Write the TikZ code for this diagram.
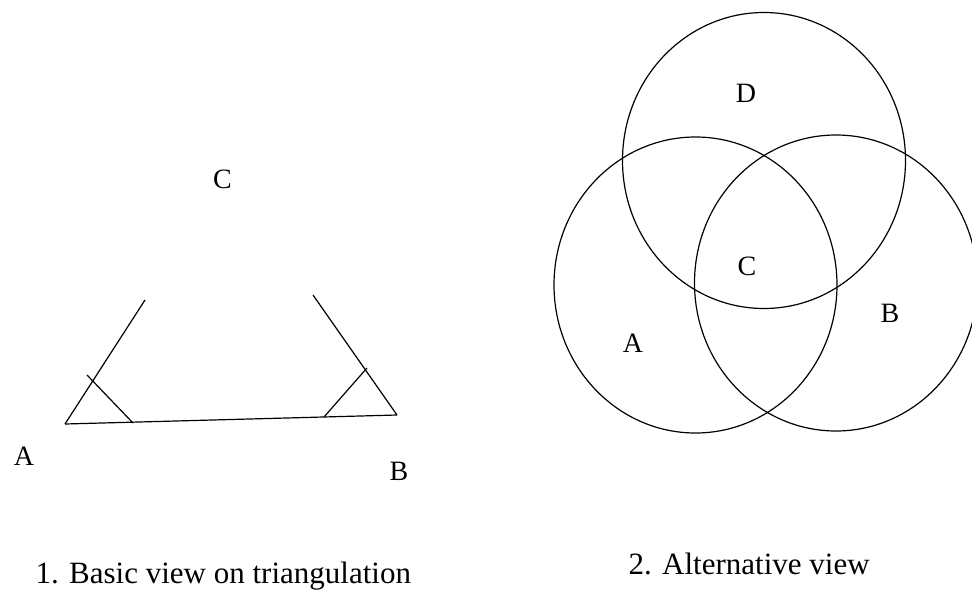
\documentclass[tikz,border=0pt]{standalone}
\usepackage{fontspec}
\setmainfont{Liberation Serif}

\begin{document}
\begin{tikzpicture}[x=1pt, y=-1pt, line width=1.2pt,
      lbl/.style={inner sep=0pt, anchor=base, font=\fontsize{28}{32}\selectfont},
      captxt/.style={inner sep=0pt, anchor=base west, font=\fontsize{31}{35}\selectfont},
      ring/.style={draw, x radius=141.5, y radius=148}]
  \useasboundingbox (0,0) rectangle (972,592);
  \clip (0,0) rectangle (972,592);
  % left: triangulation
  \coordinate (pA)  at (65,424);
  \coordinate (pB)  at (397,415);
  \coordinate (rA)  at (145,300);
  \coordinate (rB)  at (313,295);
  \coordinate (tA1) at (87,375);
  \coordinate (tA2) at (133,423);
  \coordinate (tB1) at (324,417);
  \coordinate (tB2) at (367,368);
  \draw (pA) -- (pB);
  \draw (pA) -- (rA); \draw (pB) -- (rB);
  \draw (tA1) -- (tA2); \draw (tB1) -- (tB2);
  \node[lbl] (labC) at (222.5,188) {C};
  \node[lbl] (labA) at (24,465)    {A};
  \node[lbl] (labB) at (399,480)   {B};
  % right: three circles
  \draw[ring] (695.5,285) ellipse [];
  \draw[ring] (764,160.5) ellipse [];
  \draw[ring] (836,283)   ellipse [];
  \node[lbl] (vD) at (746,102) {D};
  \node[lbl] (vC) at (747,275) {C};
  \node[lbl] (vB) at (890,322) {B};
  \node[lbl] (vA) at (633,352) {A};
  % captions
  \node[captxt] (cap1) at (35,583)  {1. Basic view on triangulation};
  \node[captxt] (cap2) at (628,574) {2. Alternative view};
\end{tikzpicture}
\end{document}
